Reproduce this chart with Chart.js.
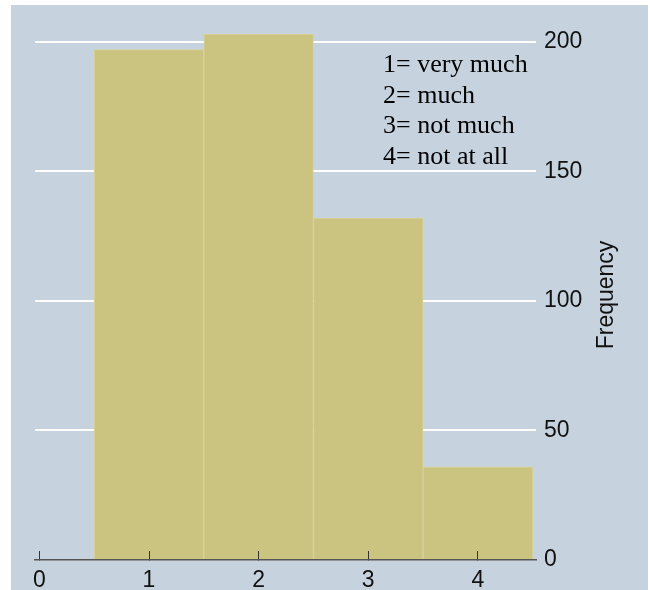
<!DOCTYPE html>
<html>
<head>
<meta charset="utf-8">
<script src="https://cdn.jsdelivr.net/npm/chart.js@4"></script>
<style>
  html, body { margin: 0; padding: 0; background: #ffffff; }
  canvas { display: block; }
</style>
</head>
<body>
<canvas id="grafico" width="650" height="590"></canvas>
<script>
const categorias = [1, 2, 3, 4];
const frequencias = [197, 203, 132, 36];
const xTicks = [0, 1, 2, 3, 4];
const yTicks = [0, 50, 100, 150, 200];
const legendaLinhas = ['1= very much', '2= much', '3= not much', '4= not at all'];
const tituloY = 'Frequency';

const corFundo = 'rgb(198, 211, 222)';
const corBarra = 'rgb(203, 196, 128)';
const corBordaBarra = 'rgb(216, 210, 152)';

// fundo azulado + legenda de texto + titulo do eixo (lido de baixo para cima)
const fundoETextos = {
    id: 'fundoETextos',
    beforeDraw(chart) {
        const c = chart.ctx;
        c.save();
        c.fillStyle = '#ffffff';
        c.fillRect(0, 0, chart.width, chart.height);
        c.fillStyle = corFundo;
        c.fillRect(11, 5, 637, 585);
        c.restore();
    },
    afterDraw(chart) {
        const c = chart.ctx;
        c.save();
        c.fillStyle = '#000000';
        c.font = '26px "Liberation Serif", "Times New Roman", serif';
        c.textAlign = 'left';
        c.textBaseline = 'alphabetic';
        legendaLinhas.forEach((linha, i) => {
            c.fillText(linha, 383, 72 + i * 30.5);
        });

        c.font = '23px "Liberation Sans", Arial, sans-serif';
        c.fillStyle = '#111111';
        c.translate(607, 295);
        c.rotate(-Math.PI / 2);
        c.textAlign = 'center';
        c.textBaseline = 'middle';
        c.fillText(tituloY, 0, 0);
        c.restore();
    }
};

const ctx = document.getElementById('grafico').getContext('2d');

new Chart(ctx, {
    type: 'bar',
    data: {
        datasets: [{
            label: 'Frequency',
            data: categorias.map((c, i) => ({ x: c, y: frequencias[i] })),
            backgroundColor: corBarra,
            borderColor: corBordaBarra,
            borderWidth: 1,
            categoryPercentage: 1,
            barPercentage: 1
        }]
    },
    options: {
        responsive: false,
        animation: false,
        devicePixelRatio: 1,
        layout: {
            padding: { left: 35, top: 16, right: 0, bottom: 0 }
        },
        plugins: {
            legend: { display: false },
            tooltip: { enabled: false }
        },
        scales: {
            x: {
                type: 'linear',
                min: -0.04,
                max: 4.53,
                offset: false,
                afterBuildTicks: scale => { scale.ticks = xTicks.map(v => ({ value: v })); },
                afterFit: scale => {
                    scale.height = 30;
                    scale.paddingLeft = 0;
                    scale.paddingRight = 0;
                },
                grid: {
                    z: 1, // marcas do eixo por cima das barras
                    offset: false,
                    drawOnChartArea: false,
                    drawTicks: true,
                    tickLength: -9,
                    color: '#333333',
                    tickWidth: 1
                },
                border: { display: true, color: '#555555', width: 1.5, z: 1 },
                ticks: {
                    padding: 16,
                    color: '#111111',
                    maxRotation: 0,
                    font: { family: '"Liberation Sans", Arial, sans-serif', size: 23 }
                }
            },
            y: {
                position: 'right',
                min: 0,
                max: 210,
                afterBuildTicks: scale => { scale.ticks = yTicks.map(v => ({ value: v })); },
                afterFit: scale => {
                    scale.width = 114;
                    scale.paddingTop = 0;
                    scale.paddingBottom = 0;
                },
                grid: {
                    drawTicks: false,
                    lineWidth: 2,
                    color: ctx => (ctx.tick && ctx.tick.value === 0) ? 'rgba(0,0,0,0)' : '#ffffff'
                },
                border: { display: false },
                ticks: {
                    padding: 8,
                    color: '#111111',
                    font: { family: '"Liberation Sans", Arial, sans-serif', size: 23 }
                }
            }
        }
    },
    plugins: [fundoETextos]
});
</script>
</body>
</html>
